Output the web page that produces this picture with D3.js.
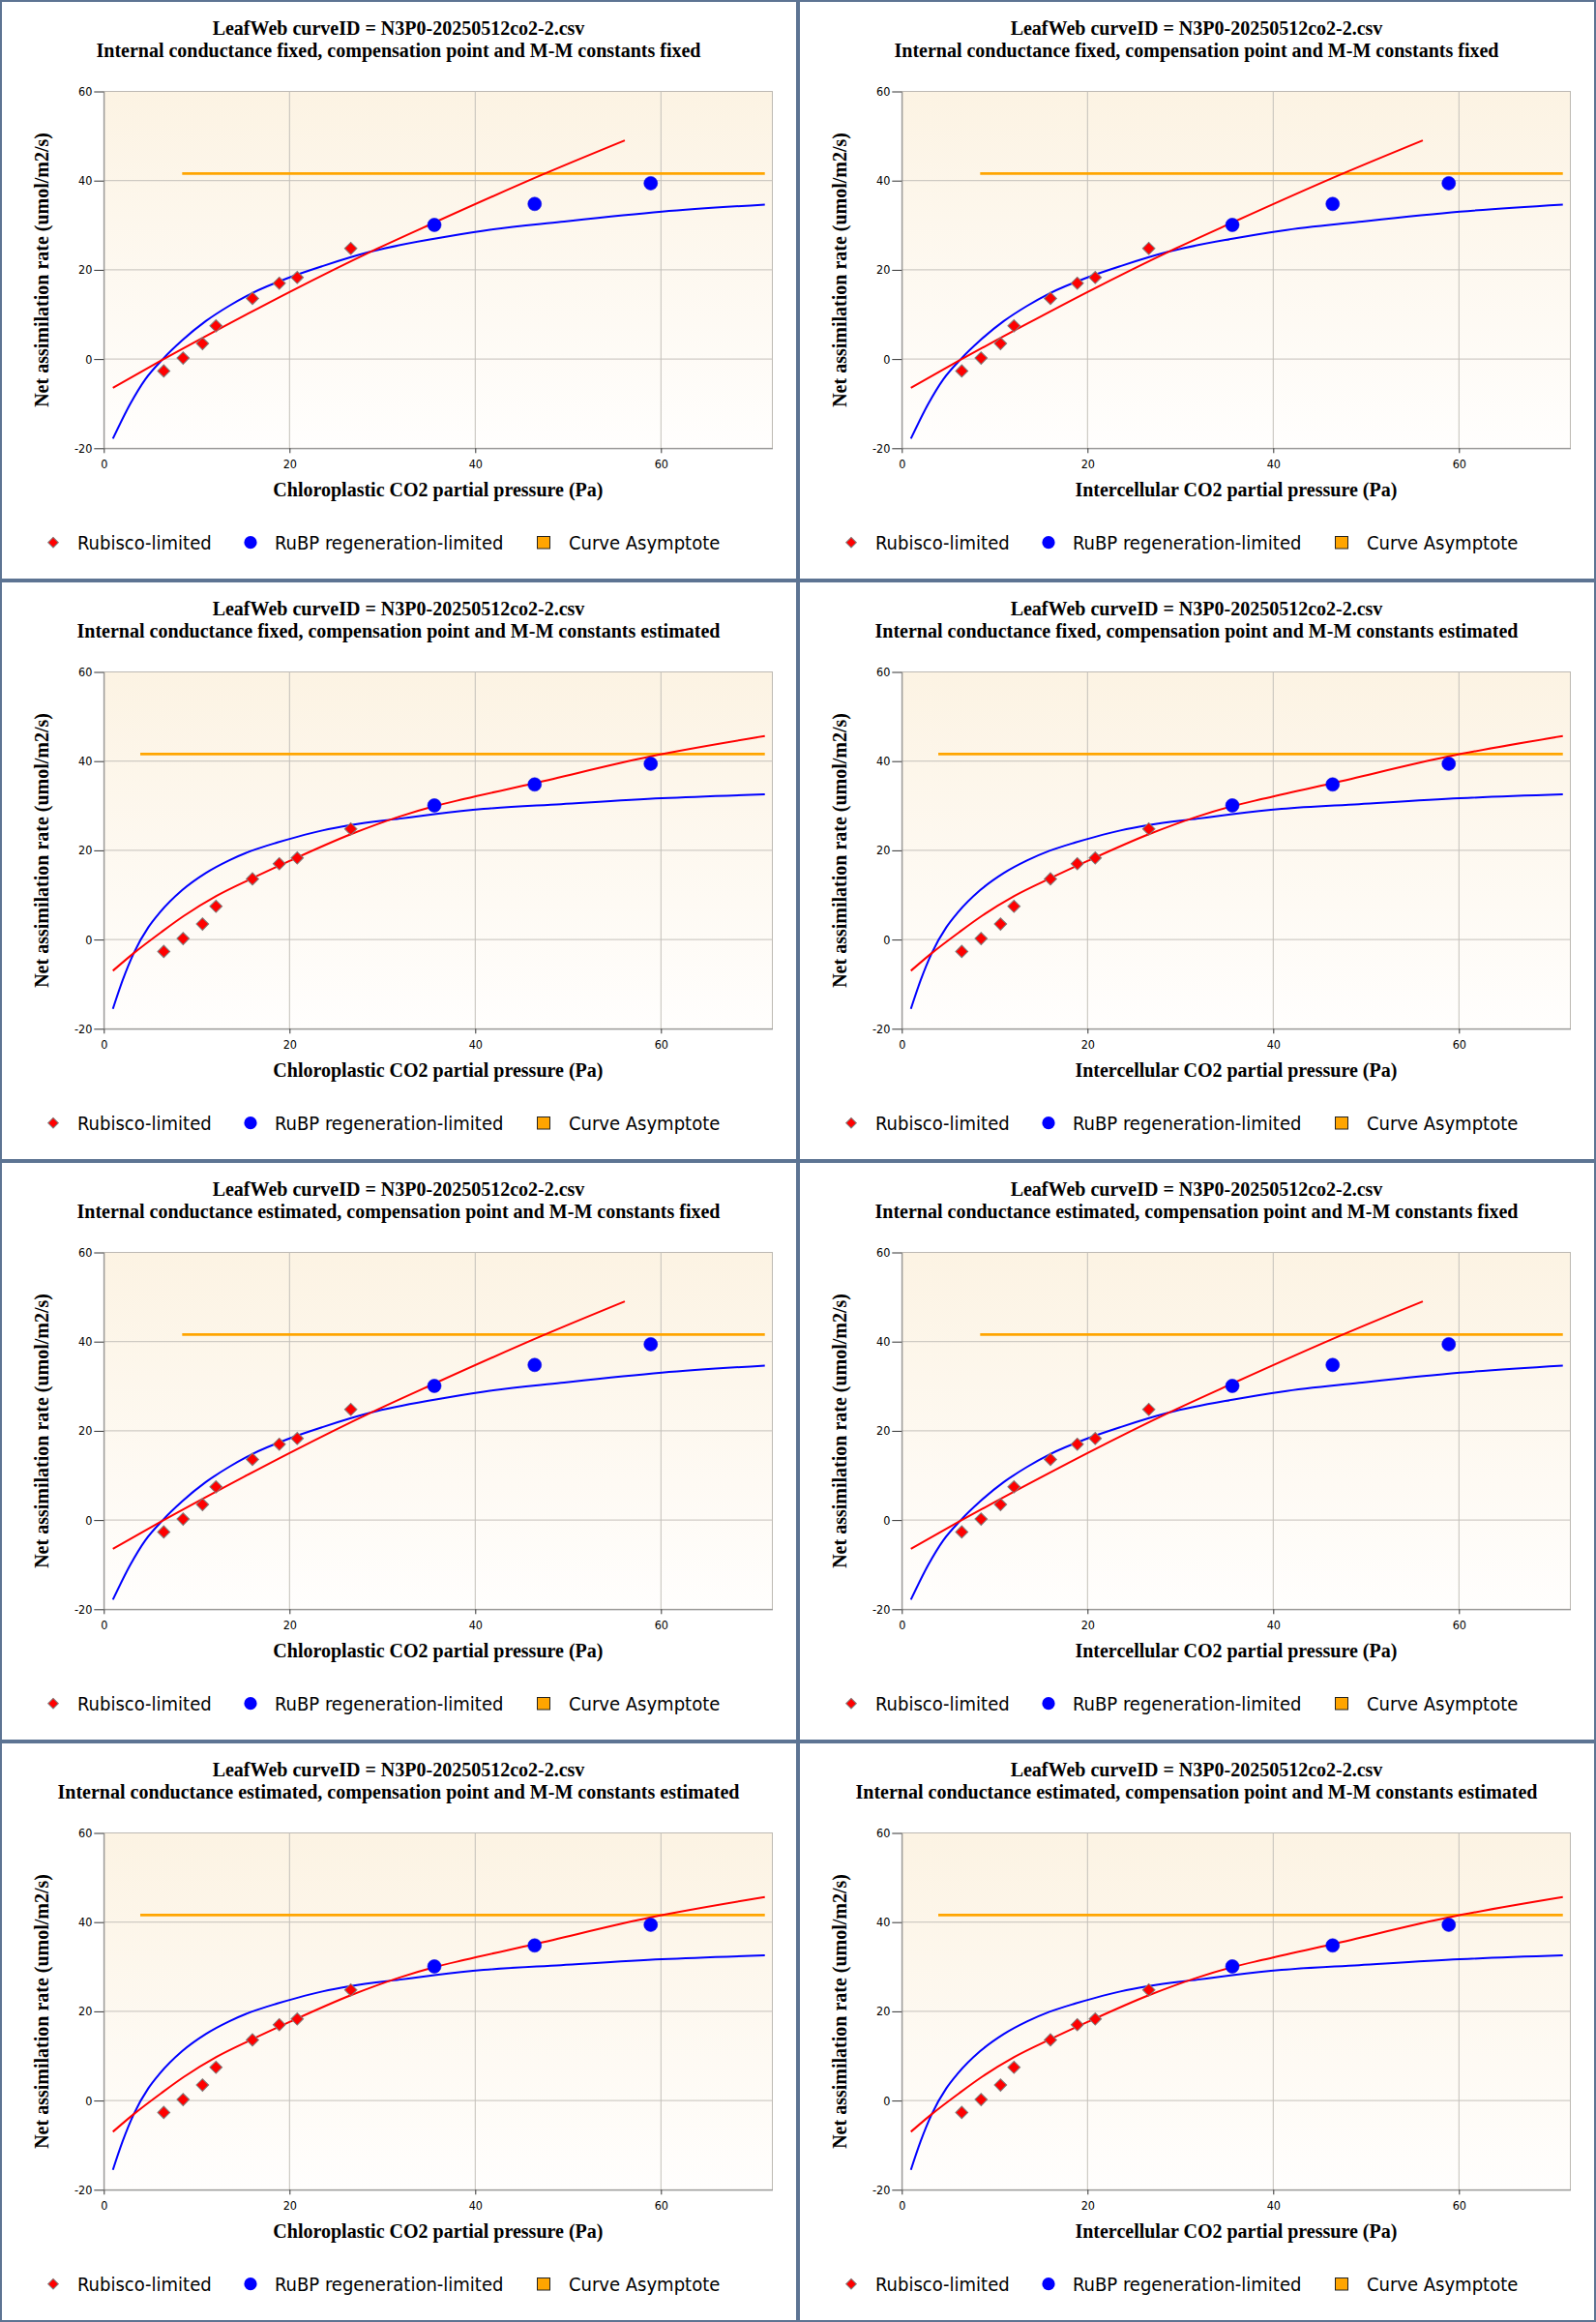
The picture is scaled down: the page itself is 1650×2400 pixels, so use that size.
<!DOCTYPE html>
<html>
<head>
<meta charset="utf-8">
<script src="https://cdn.jsdelivr.net/npm/d3@7"></script>
<style>
    body { margin: 0; background: #fff; }
    .tick text { font-family: "DejaVu Sans Condensed", "DejaVu Sans", sans-serif; font-stretch: condensed; font-size: 12.5px; fill: #000; }
    .title, .axis-title { font-family: "Liberation Serif", "Times New Roman", serif; font-weight: bold; font-size: 20px; fill: #000; }
    .legend text { font-family: "DejaVu Sans Condensed", "DejaVu Sans", sans-serif; font-stretch: condensed; font-size: 20px; fill: #000; }
</style>
</head>
<body>
<svg width="1650" height="2400"></svg>
<script>
// tick values
const xTicks = [0, 20, 40, 60];
const yTicks = [-20, 0, 20, 40, 60];

const curveId = "LeafWeb curveID = N3P0-20250512co2-2.csv";
const subtitles = [
    "Internal conductance fixed, compensation point and M-M constants fixed",
    "Internal conductance fixed, compensation point and M-M constants estimated",
    "Internal conductance estimated, compensation point and M-M constants fixed",
    "Internal conductance estimated, compensation point and M-M constants estimated"
];
const xLabels = ["Chloroplastic CO2 partial pressure (Pa)", "Intercellular CO2 partial pressure (Pa)"];
const yLabel = "Net assimilation rate (umol/m2/s)";
const legendLabels = ["Rubisco-limited", "RuBP regeneration-limited", "Curve Asymptote"];

// observed points [x, A]
const rubiscoPts = [[6.46, -2.67], [8.54, 0.22], [10.63, 3.47], [12.08, 7.44],
    [16.01, 13.6], [18.9, 17.0], [20.83, 18.29], [26.6, 24.8]];
const rubpPts = [[35.6, 30.08], [46.4, 34.77], [58.9, 39.41]];

// fitted curves, constants fixed
const fixedRubiscoCurve = [[0.98, -6.44], [6.36, -0.14], [13.48, 7.9], [20.0, 15.03],
    [28.76, 24.08], [35.6, 30.6], [47.5, 41.58], [56.11, 49.02]];
const fixedRubpCurve = [[0.98, -17.86], [2.89, -9.9], [4.45, -4.6], [6.36, 0.0],
    [8.44, 4.2], [10.98, 8.5], [13.48, 11.9], [15.9, 14.7], [20.0, 18.29],
    [23.54, 20.82], [28.76, 24.08], [35.6, 26.97], [40.9, 28.78], [49.24, 30.75],
    [60.1, 33.04], [71.19, 34.64]];

// fitted curves, constants estimated
const estRubiscoCurve = [[0.98, -7.0], [3.23, -3.04], [6.19, 1.66], [8.61, 5.28],
    [12.11, 9.75], [16.01, 13.75], [20.0, 17.6], [26.6, 23.6], [31.88, 27.6],
    [35.6, 29.9], [38.82, 31.52], [46.4, 35.07], [58.9, 41.07], [71.19, 45.62]];
const estRubpCurve = [[0.98, -15.55], [2.02, -9.18], [3.23, -3.04], [4.8, 2.75],
    [6.01, 6.0], [8.44, 11.06], [10.98, 14.9], [13.48, 17.72], [15.9, 19.89],
    [18.69, 21.76], [20.77, 22.99], [23.54, 24.45], [26.6, 25.66], [31.88, 27.11],
    [35.6, 28.1], [40.9, 29.28], [49.24, 30.35], [60.1, 31.67], [71.19, 32.54]];

// asymptote
const asymptoteA = 41.58;
const fixedAsymX = [8.44, 71.19];
const estAsymX = [3.93, 71.19];

const fits = {
    fixed: { rubisco: fixedRubiscoCurve, rubp: fixedRubpCurve, asym: fixedAsymX },
    est: { rubisco: estRubiscoCurve, rubp: estRubpCurve, asym: estAsymX }
};
const rowFit = ["fixed", "est", "fixed", "est"];

const panelW = 825, panelH = 600;
const plot = { left: 107.3, top: 94.5, right: 798.5, bottom: 463.3 };

const x = d3.scaleLinear([0, 72], [plot.left, plot.right]);
const y = d3.scaleLinear([-20, 60], [plot.bottom, plot.top]);

const svg = d3.select("svg");

const grad = svg.append("defs").append("linearGradient")
    .attr("id", "bg").attr("x1", 0).attr("y1", 0).attr("x2", 0).attr("y2", 1);
grad.append("stop").attr("offset", "0%").attr("stop-color", "#fcf3e3");
grad.append("stop").attr("offset", "100%").attr("stop-color", "#fffefd");

const line = d3.line().x(d => x(d[0])).y(d => y(d[1])).curve(d3.curveMonotoneX);

function drawPanel(row, col) {
    const g = svg.append("g")
        .attr("transform", `translate(${col * panelW},${row * panelH})`);
    const fit = fits[rowFit[row]];

    g.append("rect")
        .attr("x", 1).attr("y", 1)
        .attr("width", panelW - 2).attr("height", panelH - 2)
        .attr("fill", "#fff")
        .attr("stroke", "#5d7493")
        .attr("stroke-width", 2);

    g.append("text").attr("class", "title")
        .attr("x", 412).attr("y", 36)
        .attr("text-anchor", "middle")
        .text(curveId);
    g.append("text").attr("class", "title")
        .attr("x", 412).attr("y", 59.3)
        .attr("text-anchor", "middle")
        .text(subtitles[row]);

    g.append("rect")
        .attr("x", plot.left).attr("y", plot.top)
        .attr("width", plot.right - plot.left).attr("height", plot.bottom - plot.top)
        .attr("fill", "url(#bg)")
        .attr("stroke", "#bdb9b3");

    // grid
    g.append("g").selectAll("line")
        .data(xTicks.slice(1))
        .join("line")
        .attr("x1", d => x(d)).attr("x2", d => x(d))
        .attr("y1", plot.top).attr("y2", plot.bottom)
        .attr("stroke", "#c4c0ba");
    g.append("g").selectAll("line")
        .data(yTicks.slice(1, -1))
        .join("line")
        .attr("x1", plot.left).attr("x2", plot.right)
        .attr("y1", d => y(d)).attr("y2", d => y(d))
        .attr("stroke", "#c4c0ba");

    const xAxis = g.append("g")
        .attr("transform", `translate(0,${plot.bottom})`)
        .call(d3.axisBottom(x)
            .tickValues(xTicks)
            .tickFormat(d => String(d))
            .tickSize(5)
            .tickSizeOuter(0)
            .tickPadding(7));
    xAxis.select(".domain").attr("stroke", "#888");
    xAxis.selectAll(".tick line").attr("stroke", "#333");

    const yAxis = g.append("g")
        .attr("transform", `translate(${plot.left},0)`)
        .call(d3.axisLeft(y)
            .tickValues(yTicks)
            .tickFormat(d => String(d))
            .tickSize(10)
            .tickSizeOuter(0)
            .tickPadding(2));
    yAxis.select(".domain").attr("stroke", "#888");
    yAxis.selectAll(".tick line").attr("stroke", "#333");

    // asymptote
    g.append("line")
        .attr("x1", x(fit.asym[0])).attr("x2", x(fit.asym[1]))
        .attr("y1", y(asymptoteA)).attr("y2", y(asymptoteA))
        .attr("stroke", "#ffa500")
        .attr("stroke-width", 2.6);

    g.append("path")
        .datum(fit.rubp)
        .attr("d", line)
        .attr("fill", "none")
        .attr("stroke", "#0000ff")
        .attr("stroke-width", 2);

    g.append("path")
        .datum(fit.rubisco)
        .attr("d", line)
        .attr("fill", "none")
        .attr("stroke", "#ff0000")
        .attr("stroke-width", 2);

    g.append("g").selectAll("path")
        .data(rubiscoPts)
        .join("path")
        .attr("d", d3.symbol(d3.symbolSquare, 81))
        .attr("transform", d => `translate(${x(d[0])},${y(d[1])}) rotate(45)`)
        .attr("fill", "#ff0000")
        .attr("stroke", "#7f7f7f")
        .attr("stroke-width", 1);

    g.append("g").selectAll("circle")
        .data(rubpPts)
        .join("circle")
        .attr("cx", d => x(d[0]))
        .attr("cy", d => y(d[1]))
        .attr("r", 7)
        .attr("fill", "#0000ff")
        .attr("stroke", "#1010e0")
        .attr("stroke-width", 0.6);

    g.append("text").attr("class", "axis-title")
        .attr("x", (plot.left + plot.right) / 2).attr("y", 512.7)
        .attr("text-anchor", "middle")
        .text(xLabels[col]);
    g.append("text").attr("class", "axis-title")
        .attr("transform", `translate(49.5,${(plot.top + plot.bottom) / 2}) rotate(-90)`)
        .attr("text-anchor", "middle")
        .text(yLabel);

    // legend
    const lg = g.append("g").attr("class", "legend");
    lg.append("path")
        .attr("d", d3.symbol(d3.symbolSquare, 57))
        .attr("transform", "translate(55,560.7) rotate(45)")
        .attr("fill", "#ff0000")
        .attr("stroke", "#7f7f7f");
    lg.append("circle")
        .attr("cx", 259).attr("cy", 560.7).attr("r", 6.6)
        .attr("fill", "#0000ff");
    lg.append("rect")
        .attr("x", 555.5).attr("y", 554.5).attr("width", 13).attr("height", 12.5)
        .attr("fill", "#ffa500")
        .attr("stroke", "#222");
    const textX = [80, 284, 588];
    lg.selectAll("text")
        .data(legendLabels)
        .join("text")
        .attr("x", (d, i) => textX[i])
        .attr("y", 567.7)
        .text(d => d);
}

for (let row = 0; row < 4; row++)
    for (let col = 0; col < 2; col++)
        drawPanel(row, col);
</script>
</body>
</html>
